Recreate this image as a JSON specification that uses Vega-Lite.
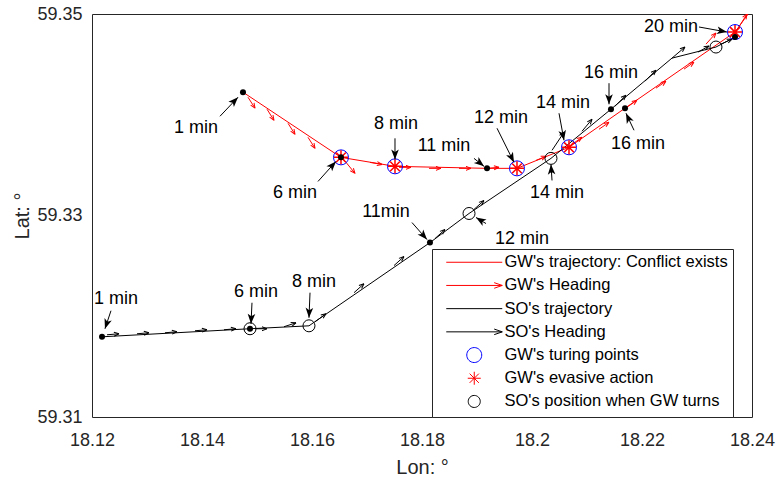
{
  "$schema": "https://vega.github.io/schema/vega-lite/v6.json",
  "width": 660,
  "height": 403,
  "autosize": {"type": "none"},
  "padding": {"left": 92, "top": 14, "right": 28, "bottom": 62},
  "background": "white",
  "config": {
    "view": {"stroke": "#262626", "strokeWidth": 1},
    "font": "Liberation Sans",
    "axis": {"grid": false, "labelFont": "Liberation Sans", "titleFont": "Liberation Sans", "labelColor": "#262626", "titleColor": "#262626", "domain": false, "ticks": false, "labelFontSize": 18, "titleFontSize": 20, "titleFontWeight": "normal", "labelFlush": false}
  },
  "resolve": {"axis": {"x": "independent", "y": "independent"}},
  "datasets": {
    "gw": [
      {"t": 1, "lon": 18.14745, "lat": 59.34224},
      {"t": 2, "lon": 18.16527, "lat": 59.33577},
      {"t": 3, "lon": 18.17509, "lat": 59.33488},
      {"t": 4, "lon": 18.19182, "lat": 59.33468},
      {"t": 5, "lon": 18.19727, "lat": 59.33468},
      {"t": 6, "lon": 18.20673, "lat": 59.33677},
      {"t": 7, "lon": 18.21691, "lat": 59.34065},
      {"t": 8, "lon": 18.23691, "lat": 59.34821},
      {"t": 9, "lon": 18.23982, "lat": 59.3504}
    ],
    "so": [
      {"t": 1, "lon": 18.12182, "lat": 59.31796},
      {"t": 2, "lon": 18.14873, "lat": 59.31876},
      {"t": 3, "lon": 18.15945, "lat": 59.31905},
      {"t": 4, "lon": 18.18145, "lat": 59.32731},
      {"t": 5, "lon": 18.18855, "lat": 59.3302},
      {"t": 6, "lon": 18.20345, "lat": 59.33567},
      {"t": 7, "lon": 18.21436, "lat": 59.34055},
      {"t": 8, "lon": 18.22545, "lat": 59.34562},
      {"t": 9, "lon": 18.23345, "lat": 59.34672},
      {"t": 10, "lon": 18.23691, "lat": 59.34771}
    ],
    "heading": [
      {"ship": "GW", "lon": 18.14836, "lat": 59.34174, "lon2": 18.14964, "lat2": 59.34065, "ang": 57.5},
      {"ship": "GW", "lon": 18.15182, "lat": 59.34055, "lon2": 18.15309, "lat2": 59.33945, "ang": 57.5},
      {"ship": "GW", "lon": 18.15564, "lat": 59.33915, "lon2": 18.15691, "lat2": 59.33806, "ang": 57.5},
      {"ship": "GW", "lon": 18.15927, "lat": 59.33776, "lon2": 18.16055, "lat2": 59.33667, "ang": 57.5},
      {"ship": "GW", "lon": 18.16545, "lat": 59.33577, "lon2": 18.16782, "lat2": 59.33418, "ang": 50.9},
      {"ship": "GW", "lon": 18.17055, "lat": 59.33527, "lon2": 18.17273, "lat2": 59.33507, "ang": 9.5},
      {"ship": "GW", "lon": 18.17582, "lat": 59.33478, "lon2": 18.178, "lat2": 59.33478, "ang": 0},
      {"ship": "GW", "lon": 18.18127, "lat": 59.33468, "lon2": 18.18345, "lat2": 59.33468, "ang": 0},
      {"ship": "GW", "lon": 18.18673, "lat": 59.33468, "lon2": 18.18891, "lat2": 59.33468, "ang": 0},
      {"ship": "GW", "lon": 18.19182, "lat": 59.33468, "lon2": 18.194, "lat2": 59.33478, "ang": -4.8},
      {"ship": "GW", "lon": 18.20073, "lat": 59.33547, "lon2": 18.20255, "lat2": 59.33587, "ang": -21.8},
      {"ship": "GW", "lon": 18.20727, "lat": 59.33706, "lon2": 18.20909, "lat2": 59.33776, "ang": -35},
      {"ship": "GW", "lon": 18.21218, "lat": 59.33856, "lon2": 18.214, "lat2": 59.33925, "ang": -35},
      {"ship": "GW", "lon": 18.21727, "lat": 59.34075, "lon2": 18.21909, "lat2": 59.34144, "ang": -35},
      {"ship": "GW", "lon": 18.22255, "lat": 59.34264, "lon2": 18.22436, "lat2": 59.34333, "ang": -35},
      {"ship": "GW", "lon": 18.22764, "lat": 59.34453, "lon2": 18.22945, "lat2": 59.34522, "ang": -35},
      {"ship": "GW", "lon": 18.23164, "lat": 59.34701, "lon2": 18.23345, "lat2": 59.34811, "ang": -47.7},
      {"ship": "GW", "lon": 18.23727, "lat": 59.34841, "lon2": 18.23909, "lat2": 59.35, "ang": -58},
      {"ship": "SO", "lon": 18.12273, "lat": 59.31816, "lon2": 18.12491, "lat2": 59.31826, "ang": -4.8},
      {"ship": "SO", "lon": 18.12818, "lat": 59.31826, "lon2": 18.13036, "lat2": 59.31836, "ang": -4.8},
      {"ship": "SO", "lon": 18.13327, "lat": 59.31836, "lon2": 18.13545, "lat2": 59.31846, "ang": -4.8},
      {"ship": "SO", "lon": 18.13873, "lat": 59.31856, "lon2": 18.14091, "lat2": 59.31866, "ang": -4.8},
      {"ship": "SO", "lon": 18.144, "lat": 59.31866, "lon2": 18.14618, "lat2": 59.31876, "ang": -4.8},
      {"ship": "SO", "lon": 18.14964, "lat": 59.31876, "lon2": 18.15182, "lat2": 59.31876, "ang": 0},
      {"ship": "SO", "lon": 18.15491, "lat": 59.31896, "lon2": 18.15709, "lat2": 59.31935, "ang": -18.4},
      {"ship": "SO", "lon": 18.16055, "lat": 59.31945, "lon2": 18.16255, "lat2": 59.32025, "ang": -36},
      {"ship": "SO", "lon": 18.16764, "lat": 59.32234, "lon2": 18.16945, "lat2": 59.32323, "ang": -42},
      {"ship": "SO", "lon": 18.17491, "lat": 59.32503, "lon2": 18.17673, "lat2": 59.32593, "ang": -42},
      {"ship": "SO", "lon": 18.18236, "lat": 59.32771, "lon2": 18.18418, "lat2": 59.32861, "ang": -42},
      {"ship": "SO", "lon": 18.18945, "lat": 59.3306, "lon2": 18.19127, "lat2": 59.33149, "ang": -42},
      {"ship": "SO", "lon": 18.20364, "lat": 59.33647, "lon2": 18.20582, "lat2": 59.33826, "ang": -56.3},
      {"ship": "SO", "lon": 18.20909, "lat": 59.33836, "lon2": 18.21091, "lat2": 59.33955, "ang": -50.2},
      {"ship": "SO", "lon": 18.21509, "lat": 59.34085, "lon2": 18.21709, "lat2": 59.34194, "ang": -45},
      {"ship": "SO", "lon": 18.22055, "lat": 59.34333, "lon2": 18.22255, "lat2": 59.34443, "ang": -45},
      {"ship": "SO", "lon": 18.22545, "lat": 59.34562, "lon2": 18.22782, "lat2": 59.34672, "ang": -40.2},
      {"ship": "SO", "lon": 18.23018, "lat": 59.34622, "lon2": 18.23218, "lat2": 59.34682, "ang": -28.6},
      {"ship": "SO", "lon": 18.23436, "lat": 59.34701, "lon2": 18.23636, "lat2": 59.34751, "ang": -24.4}
    ],
    "dots": [
      {"lon": 18.14745, "lat": 59.34224},
      {"lon": 18.16527, "lat": 59.33577},
      {"lon": 18.19182, "lat": 59.33468},
      {"lon": 18.21691, "lat": 59.34065},
      {"lon": 18.12182, "lat": 59.31796},
      {"lon": 18.14873, "lat": 59.31876},
      {"lon": 18.18145, "lat": 59.32731},
      {"lon": 18.21436, "lat": 59.34055},
      {"lon": 18.23691, "lat": 59.34771}
    ],
    "turns": [
      {"lon": 18.16527, "lat": 59.33577},
      {"lon": 18.17509, "lat": 59.33488},
      {"lon": 18.19727, "lat": 59.33468},
      {"lon": 18.20673, "lat": 59.33677},
      {"lon": 18.23691, "lat": 59.34821}
    ],
    "sopos": [
      {"lon": 18.14873, "lat": 59.31876},
      {"lon": 18.15945, "lat": 59.31905},
      {"lon": 18.18855, "lat": 59.3302},
      {"lon": 18.20345, "lat": 59.33567},
      {"lon": 18.23345, "lat": 59.34672}
    ],
    "notes": [
      {"label": "1 min", "lon": 18.13891, "lat": 59.33866},
      {"label": "6 min", "lon": 18.15691, "lat": 59.33219},
      {"label": "8 min", "lon": 18.17527, "lat": 59.33905},
      {"label": "11 min", "lon": 18.184, "lat": 59.33687},
      {"label": "12 min", "lon": 18.19436, "lat": 59.33965},
      {"label": "14 min", "lon": 18.20564, "lat": 59.34114},
      {"label": "16 min", "lon": 18.21436, "lat": 59.34413},
      {"label": "16 min", "lon": 18.21927, "lat": 59.33706},
      {"label": "14 min", "lon": 18.20455, "lat": 59.33219},
      {"label": "20 min", "lon": 18.22527, "lat": 59.34871},
      {"label": "11min", "lon": 18.17345, "lat": 59.3303},
      {"label": "12 min", "lon": 18.19818, "lat": 59.32771},
      {"label": "1 min", "lon": 18.12436, "lat": 59.32174},
      {"label": "6 min", "lon": 18.14982, "lat": 59.32244},
      {"label": "8 min", "lon": 18.16036, "lat": 59.32343}
    ],
    "pointers": [
      {"lon": 18.14327, "lat": 59.33985, "lon2": 18.14655, "lat2": 59.34174, "ang": -46.5},
      {"lon": 18.16109, "lat": 59.33338, "lon2": 18.16436, "lat2": 59.33537, "ang": -48},
      {"lon": 18.17509, "lat": 59.33766, "lon2": 18.17509, "lat2": 59.33557, "ang": 90},
      {"lon": 18.18945, "lat": 59.33567, "lon2": 18.19127, "lat2": 59.33488, "ang": 38.7},
      {"lon": 18.19364, "lat": 59.33866, "lon2": 18.19673, "lat2": 59.33527, "ang": 63.4},
      {"lon": 18.20491, "lat": 59.34015, "lon2": 18.20582, "lat2": 59.33746, "ang": 79.5},
      {"lon": 18.214, "lat": 59.34313, "lon2": 18.214, "lat2": 59.34104, "ang": 90},
      {"lon": 18.21855, "lat": 59.33846, "lon2": 18.21709, "lat2": 59.34015, "ang": -115.2},
      {"lon": 18.20364, "lat": 59.33348, "lon2": 18.20345, "lat2": 59.33507, "ang": -93.6},
      {"lon": 18.23036, "lat": 59.34871, "lon2": 18.23545, "lat2": 59.34821, "ang": 10.1},
      {"lon": 18.17818, "lat": 59.3293, "lon2": 18.18091, "lat2": 59.32761, "ang": 48.6},
      {"lon": 18.19164, "lat": 59.3292, "lon2": 18.18982, "lat2": 59.3298, "ang": -149},
      {"lon": 18.12345, "lat": 59.32055, "lon2": 18.12236, "lat2": 59.31876, "ang": 108.4},
      {"lon": 18.14909, "lat": 59.32134, "lon2": 18.14891, "lat2": 59.31925, "ang": 92.7},
      {"lon": 18.15964, "lat": 59.32234, "lon2": 18.15945, "lat2": 59.31985, "ang": 92.3}
    ],
    "legend": [
      {"item": "GW's trajectory: Conflict exists", "lon": 0, "lat": 0},
      {"item": "GW's Heading", "lon": 0, "lat": 0},
      {"item": "SO's trajectory", "lon": 0, "lat": 0},
      {"item": "SO's Heading", "lon": 0, "lat": 0},
      {"item": "GW's turing points", "lon": 0, "lat": 0},
      {"item": "GW's evasive action", "lon": 0, "lat": 0},
      {"item": "SO's position when GW turns", "lon": 0, "lat": 0}
    ]
  },
  "encoding": {
    "x": {"field": "lon", "type": "quantitative", "scale": {"domain": [18.12, 18.24], "nice": false, "zero": false}, "axis": null},
    "y": {"field": "lat", "type": "quantitative", "scale": {"domain": [59.31, 59.35], "nice": false, "zero": false}, "axis": null}
  },
  "layer": [
    {"data": {"name": "gw"}, "mark": {"type": "line", "color": "#ff0000", "strokeWidth": 1, "clip": true},
     "encoding": {
       "x": {"field": "lon", "type": "quantitative", "scale": {"domain": [18.12, 18.24], "nice": false, "zero": false}, "axis": {"orient": "bottom", "title": "Lon: °", "values": [18.12, 18.14, 18.16, 18.18, 18.2, 18.22, 18.24], "format": "~g", "labelPadding": 14, "titlePadding": 8}},
       "y": {"field": "lat", "type": "quantitative", "scale": {"domain": [59.31, 59.35], "nice": false, "zero": false}, "axis": {"orient": "left", "title": "Lat: °", "values": [59.31, 59.33, 59.35], "format": "~g", "labelPadding": 10, "titlePadding": 4}},
       "order": {"field": "t", "type": "quantitative"}}},
    {"data": {"name": "so"}, "mark": {"type": "line", "color": "#000000", "strokeWidth": 1, "clip": true}, "encoding": {"order": {"field": "t", "type": "quantitative"}}},
    {"data": {"name": "heading"}, "transform": [{"filter": "datum.ship === 'GW'"}], "mark": {"type": "rule", "color": "#ff0000", "strokeWidth": 1, "clip": true}, "encoding": {"x2": {"field": "lon2"}, "y2": {"field": "lat2"}}},
    {"data": {"name": "heading"}, "transform": [{"filter": "datum.ship === 'GW'"}], "mark": {"type": "point", "shape": "M0,0L-1,-0.4M0,0L-1,0.4", "filled": false, "color": "#ff0000", "strokeWidth": 1, "size": 100, "opacity": 1, "clip": true}, "encoding": {"x": {"field": "lon2", "type": "quantitative", "axis": null}, "y": {"field": "lat2", "type": "quantitative", "axis": null}, "angle": {"field": "ang", "type": "quantitative", "scale": null}}},
    {"data": {"name": "heading"}, "transform": [{"filter": "datum.ship === 'SO'"}], "mark": {"type": "rule", "color": "#000000", "strokeWidth": 1, "clip": true}, "encoding": {"x2": {"field": "lon2"}, "y2": {"field": "lat2"}}},
    {"data": {"name": "heading"}, "transform": [{"filter": "datum.ship === 'SO'"}], "mark": {"type": "point", "shape": "M0,0L-1,-0.4M0,0L-1,0.4", "filled": false, "color": "#000000", "strokeWidth": 1, "size": 100, "opacity": 1, "clip": true}, "encoding": {"x": {"field": "lon2", "type": "quantitative", "axis": null}, "y": {"field": "lat2", "type": "quantitative", "axis": null}, "angle": {"field": "ang", "type": "quantitative", "scale": null}}},
    {"data": {"name": "sopos"}, "mark": {"type": "point", "shape": "circle", "filled": false, "color": "#000000", "strokeWidth": 1, "size": 144, "opacity": 1}},
    {"data": {"name": "turns"}, "mark": {"type": "point", "shape": "circle", "filled": false, "color": "#0000ff", "strokeWidth": 1, "size": 225, "opacity": 1}},
    {"data": {"name": "turns"}, "mark": {"type": "point", "shape": "M-1,0L1,0M0,-1L0,1M-0.7,-0.7L0.7,0.7M-0.7,0.7L0.7,-0.7", "filled": false, "color": "#ff0000", "strokeWidth": 1.5, "size": 196, "opacity": 1}},
    {"data": {"name": "dots"}, "mark": {"type": "point", "shape": "circle", "filled": true, "color": "#000000", "size": 36, "opacity": 1}},
    {"data": {"name": "pointers"}, "mark": {"type": "rule", "color": "#000000", "strokeWidth": 1}, "encoding": {"x2": {"field": "lon2"}, "y2": {"field": "lat2"}}},
    {"data": {"name": "pointers"}, "mark": {"type": "point", "shape": "M0,0L-1,-0.38L-0.75,0L-1,0.38Z", "filled": true, "color": "#000000", "size": 400, "opacity": 1}, "encoding": {"x": {"field": "lon2", "type": "quantitative", "axis": null}, "y": {"field": "lat2", "type": "quantitative", "axis": null}, "angle": {"field": "ang", "type": "quantitative", "scale": null}}},
    {"data": {"name": "notes"}, "mark": {"type": "text", "font": "Liberation Sans", "fontSize": 18, "color": "#000000", "align": "center", "baseline": "middle"}, "encoding": {"text": {"field": "label"}}},
    {"data": {"name": "legend"}, "mark": {"type": "point", "filled": false, "clip": true, "strokeWidth": 1, "opacity": 1, "size": 196},
     "encoding": {
       "shape": {"field": "item", "type": "nominal", "scale": {"domain": ["GW's trajectory: Conflict exists", "GW's Heading", "SO's trajectory", "SO's Heading", "GW's turing points", "GW's evasive action", "SO's position when GW turns"], "range": ["M-4,0L4,0M0,-1.1L0,-1.1M0,1.1L0,1.1", "M-4,0L4,0M4,0L2.85,-0.4M4,0L2.85,0.4M0,-1.1L0,-1.1M0,1.1L0,1.1", "M-4,0L4,0M0,-1.1L0,-1.1M0,1.1L0,1.1", "M-4,0L4,0M4,0L2.85,-0.4M4,0L2.85,0.4M0,-1.1L0,-1.1M0,1.1L0,1.1", "M1.07,0A1.07,1.07 0 1,1 -1.07,0A1.07,1.07 0 1,1 1.07,0ZM0,-1.1L0,-1.1M0,1.1L0,1.1", "M-0.93,0L0.93,0M0,-0.93L0,0.93M-0.66,-0.66L0.66,0.66M-0.66,0.66L0.66,-0.66M0,-1.1L0,-1.1M0,1.1L0,1.1", "M0.86,0A0.86,0.86 0 1,1 -0.86,0A0.86,0.86 0 1,1 0.86,0ZM0,-1.1L0,-1.1M0,1.1L0,1.1"]},
                 "legend": {"title": null, "orient": "none", "legendX": 340, "legendY": 235, "strokeColor": "#262626", "fillColor": "white", "padding": 5, "rowPadding": 3.2, "labelFontSize": 16.5, "labelFont": "Liberation Sans", "labelColor": "#000000", "labelLimit": 0, "symbolOffset": 29, "labelOffset": 22, "symbolStrokeWidth": 1, "symbolSize": 196, "cornerRadius": 0}},
       "color": {"field": "item", "type": "nominal", "scale": {"domain": ["GW's trajectory: Conflict exists", "GW's Heading", "SO's trajectory", "SO's Heading", "GW's turing points", "GW's evasive action", "SO's position when GW turns"], "range": ["#ff0000", "#ff0000", "#000000", "#000000", "#0000ff", "#ff0000", "#000000"]},
                 "legend": {"title": null, "orient": "none", "legendX": 340, "legendY": 235, "strokeColor": "#262626", "fillColor": "white", "padding": 5, "rowPadding": 3.2, "labelFontSize": 16.5, "labelFont": "Liberation Sans", "labelColor": "#000000", "labelLimit": 0, "symbolOffset": 29, "labelOffset": 22, "symbolStrokeWidth": 1, "symbolSize": 196, "cornerRadius": 0}}
     }}
  ]
}
